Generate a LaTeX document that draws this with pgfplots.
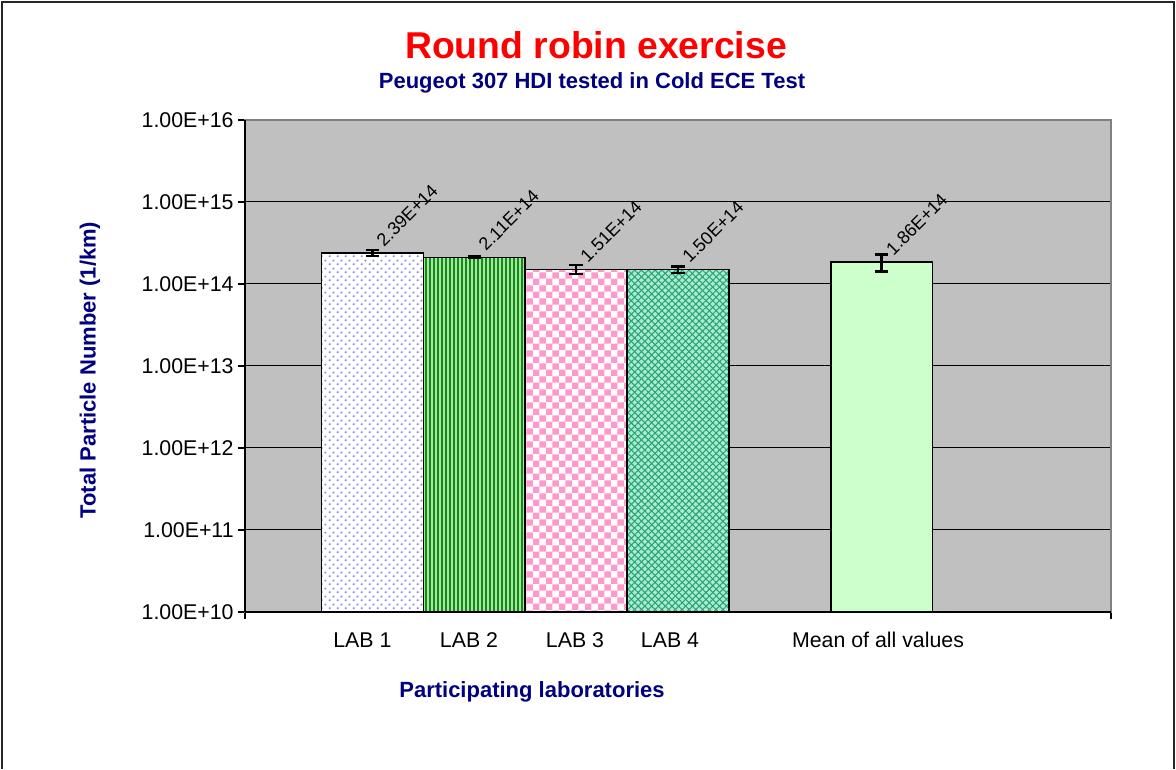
\documentclass[border=0pt]{standalone}
\usepackage{pgfplots}
\pgfplotsset{compat=1.18}
\usepackage{fontspec}
\setmainfont{Liberation Sans}
\usetikzlibrary{patterns,patterns.meta}
\definecolor{navy}{HTML}{000080}
\definecolor{plotgray}{HTML}{C0C0C0}
\definecolor{lav}{HTML}{8C8CFF}
\definecolor{dkgreen}{HTML}{1A861A}
\definecolor{ltgreen}{HTML}{A0EAA0}
\definecolor{pinkc}{HTML}{FF99CC}
\definecolor{mint}{HTML}{A6F0C8}
\definecolor{teal2}{HTML}{2E9E80}
\definecolor{meangreen}{HTML}{CCFFCC}
\pgfdeclarepatternformonly{mydots}{\pgfpointorigin}{\pgfqpoint{6pt}{6pt}}{\pgfqpoint{6pt}{6pt}}{%
  \pgfpathcircle{\pgfqpoint{1.5pt}{1.5pt}}{1pt}%
  \pgfpathcircle{\pgfqpoint{4.5pt}{4.5pt}}{1pt}%
  \pgfusepath{fill}}
\pgfdeclarepatternformonly{bigcheck}{\pgfpointorigin}{\pgfqpoint{10pt}{10pt}}{\pgfqpoint{10pt}{10pt}}{%
  \pgfpathrectangle{\pgfpointorigin}{\pgfqpoint{5pt}{5pt}}%
  \pgfpathrectangle{\pgfqpoint{5pt}{5pt}}{\pgfqpoint{5pt}{5pt}}%
  \pgfusepath{fill}}
\begin{document}
\begin{tikzpicture}
\path[use as bounding box] (-183.75pt,-117.75pt) rectangle (698.25pt,459pt);
\draw[line width=1.5pt, black!85] (-182.25pt,-117.75pt) -- (-182.25pt,457.5pt) -- (696.75pt,457.5pt) -- (696.75pt,-117.75pt);
\begin{axis}[
  at={(0pt,0pt)}, anchor=south west,
  scale only axis, width=649.5pt, height=369pt,
  xmin=0, xmax=8.5,
  ymode=log, ymin=1e10, ymax=1e16, log origin=infty,
  axis background/.style={fill=plotgray},
  axis line style={draw=gray, line width=0.8pt},
  xtick={0,8.5}, xticklabels={,},
  ytick={1e10,1e11,1e12,1e13,1e14,1e15,1e16},
  yticklabels={1.00E+10,1.00E+11,1.00E+12,1.00E+13,1.00E+14,1.00E+15,1.00E+16},
  yminorticks=false,
  tick pos=left,
  tick align=outside, major tick length=5pt,
  tick style={black, line width=0.8pt},
  ticklabel style={font=\fontsize{16}{18}\selectfont},
  ymajorgrids, grid style={black, line width=0.75pt},
  clip=false,
]
\addplot[ybar, bar width=1, bar shift=0pt, draw=black, line width=1.1pt, fill=white,
  postaction={pattern=mydots, pattern color=lav}] coordinates {(1.25,2.39e14)};
\addplot[ybar, bar width=1, bar shift=0pt, draw=black, line width=1.1pt, fill=dkgreen,
  postaction={pattern={Lines[angle=90,distance=3pt,line width=0.9pt]}, pattern color=ltgreen}] coordinates {(2.25,2.11e14)};
\addplot[ybar, bar width=1, bar shift=0pt, draw=black, line width=1.1pt, fill=white,
  postaction={pattern=bigcheck, pattern color=pinkc}] coordinates {(3.25,1.51e14)};
\addplot[ybar, bar width=1, bar shift=0pt, draw=black, line width=1.1pt, fill=mint,
  postaction={pattern={Lines[angle=45,distance=3.6pt,line width=0.8pt]}, pattern color=teal2},
  postaction={pattern={Lines[angle=-45,distance=3.6pt,line width=0.8pt]}, pattern color=teal2}] coordinates {(4.25,1.50e14)};
\addplot[ybar, bar width=1, bar shift=0pt, draw=black, line width=1.1pt, fill=meangreen] coordinates {(6.25,1.86e14)};
% error bars
\addplot[draw=none, mark=none,
  error bars/.cd, y dir=both, y explicit,
  error bar style={draw=black, line width=2pt},
  error mark options={draw=black, rotate=90, mark size=5pt, line width=2pt}]
  table[x=x, y=y, y error=e] {
x y e
1.25 2.39e14 0.20e14
2.25 2.11e14 0.04e14
3.25 1.51e14 0.19e14
4.25 1.50e14 0.14e14
6.25 1.86e14 0.45e14
};
% value labels
\addplot[draw=none, mark=none, nodes near coords, point meta=explicit symbolic,
  every node near coord/.append style={black, xshift=9pt, yshift=4pt, rotate=45, anchor=south west, inner sep=0pt,
    font=\fontsize{13.5}{16}\selectfont}]
  table[x=x, y=y, meta=l] {
x y l
1.25 2.39e14 2.39E+14
2.25 2.11e14 2.11E+14
3.25 1.51e14 1.51E+14
4.25 1.50e14 1.50E+14
6.25 1.86e14 1.86E+14
};
\draw[black, line width=0.9pt] (rel axis cs:0,0) -- (rel axis cs:0,1);
\draw[black, line width=0.9pt] (rel axis cs:0,0) -- (rel axis cs:1,0);
\end{axis}
\begin{scope}[font=\fontsize{16}{18}\selectfont]
\node at (88.0pt,-21pt) {LAB 1};
\node at (168.0pt,-21pt) {LAB 2};
\node at (247.5pt,-21pt) {LAB 3};
\node at (318.75pt,-21pt) {LAB 4};
\node at (474.75pt,-21pt) {Mean of all values};
\end{scope}
\node[red, font=\fontsize{28}{32}\bfseries] at (263.25pt,425.25pt) {Round robin exercise};
\node[navy, font=\fontsize{16.5}{19}\bfseries] at (260.25pt,397pt) {Peugeot 307 HDI tested in Cold ECE Test};
\node[navy, font=\fontsize{16.5}{19}\bfseries] at (215.25pt,-60pt) {Participating laboratories};
\node[navy, rotate=90, font=\fontsize{16.5}{19}\bfseries] at (-116.25pt,181.5pt) {Total Particle Number (1/km)};
\end{tikzpicture}
\end{document}
